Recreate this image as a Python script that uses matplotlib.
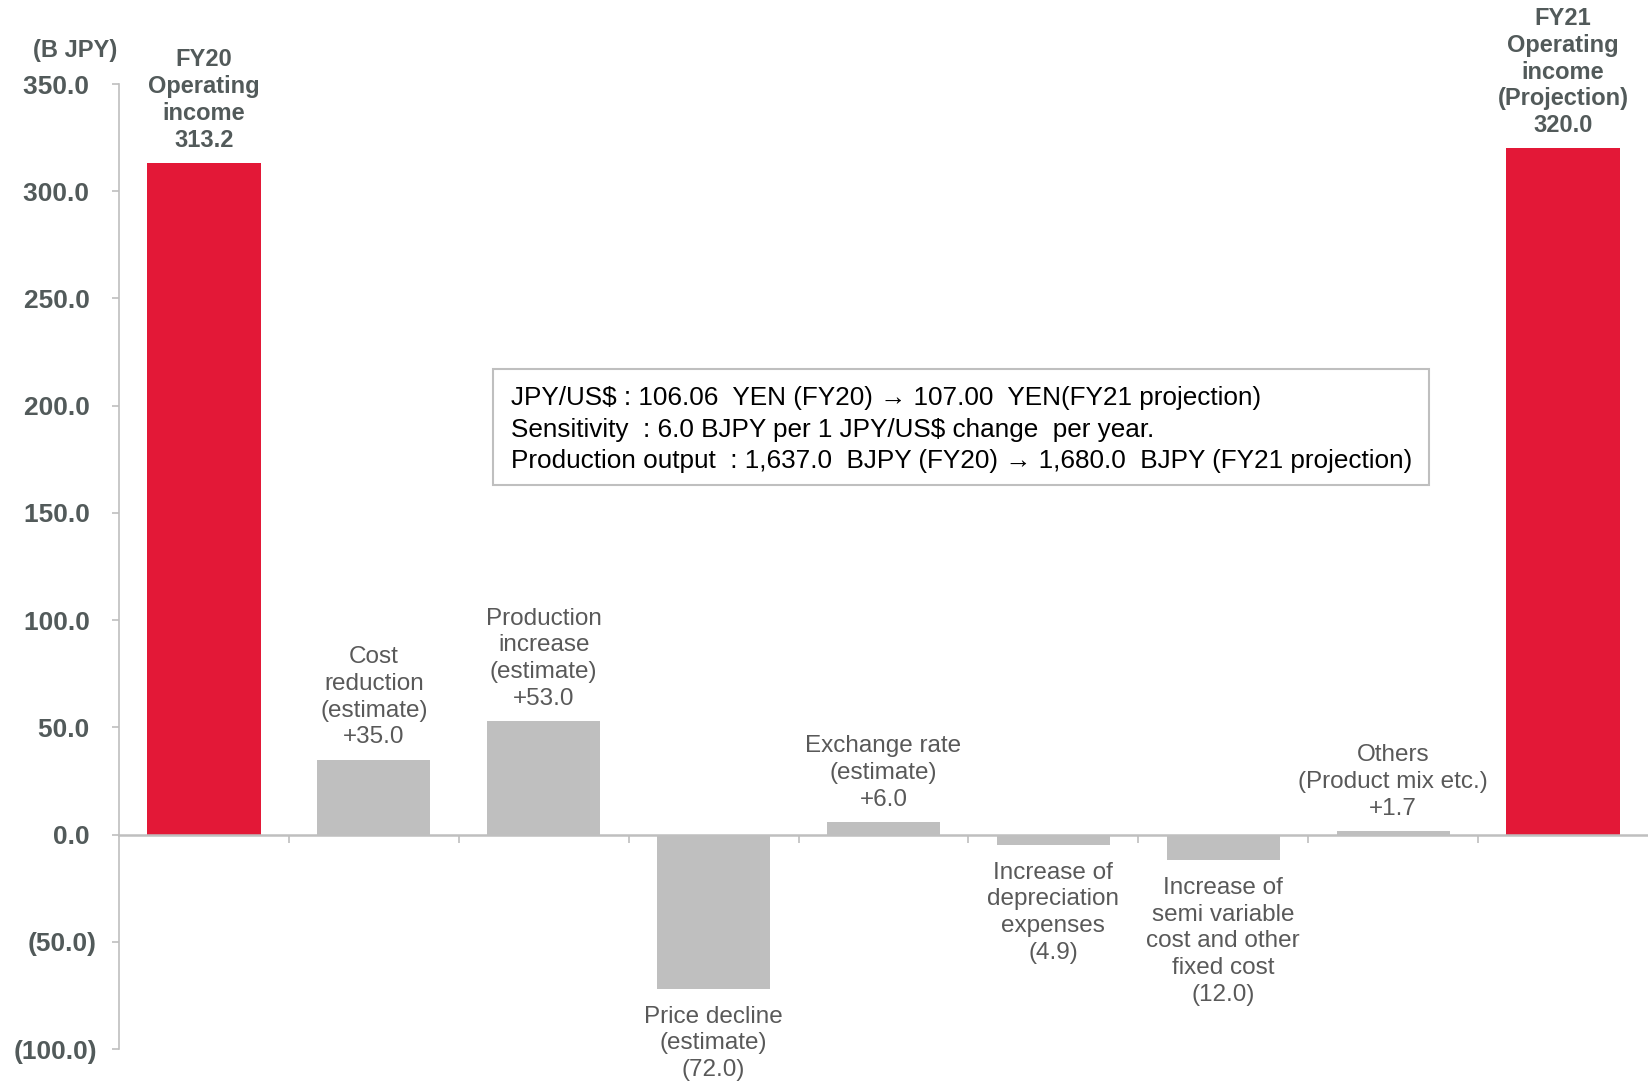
import matplotlib
matplotlib.use("Agg")
import matplotlib.pyplot as plt
from matplotlib.patches import Rectangle

plt.rcParams['font.family'] = ['Liberation Sans', 'DejaVu Sans']

# operating income bridge, B JPY
labels = [
    "FY20\nOperating\nincome\n313.2",
    "Cost\nreduction\n(estimate)\n+35.0",
    "Production\nincrease\n(estimate)\n+53.0",
    "Price decline\n(estimate)\n(72.0)",
    "Exchange rate\n(estimate)\n+6.0",
    "Increase of\ndepreciation\nexpenses\n(4.9)",
    "Increase of\nsemi variable\ncost and other\nfixed cost\n(12.0)",
    "Others\n(Product mix etc.)\n+1.7",
    "FY21\nOperating\nincome\n(Projection)\n320.0",
]
values = [313.2, 35.0, 53.0, -72.0, 6.0, -4.9, -12.0, 1.7, 320.0]
is_total = [True, False, False, False, False, False, False, False, True]
yticks = [-100, -50, 0, 50, 100, 150, 200, 250, 300, 350]

note_lines = [
    "JPY/US$ : 106.06  YEN (FY20) \u2192 107.00  YEN(FY21 projection)",
    "Sensitivity  : 6.0 BJPY per 1 JPY/US$ change  per year.",
    "Production output  : 1,637.0  BJPY (FY20) \u2192 1,680.0  BJPY (FY21 projection)",
]

RED = "#E31837"
GREY = "#BFBFBF"
AXIS = "#BFBFBF"
TXT = "#595959"
TICK_TXT = "#525A5A"

W, H = 1648, 1082
fig = plt.figure(figsize=(W / 100, H / 100), dpi=100)
ax = fig.add_axes([119 / W, 33 / H, 1 - 119 / W, 965 / H])

x = list(range(len(values)))
colors = [RED if t else GREY for t in is_total]
ax.bar(x, values, width=0.667, color=colors, zorder=2)

ax.set_xlim(-0.5, len(values) - 0.5)
ax.set_ylim(-100, 350)

for s in ["top", "right"]:
    ax.spines[s].set_visible(False)
ax.spines["left"].set_color(AXIS)
ax.spines["left"].set_linewidth(1.2)
ax.spines["bottom"].set_color(AXIS)
ax.spines["bottom"].set_linewidth(1.8)
ax.spines["bottom"].set_position(("data", 0))
ax.spines["bottom"].set_zorder(3)

ax.set_xticks([i + 0.5 for i in range(len(values) - 1)])
ax.set_xticklabels([])
ax.tick_params(axis="x", direction="out", length=6, width=1.2, color=AXIS)

def fmt(v):
    return f"({abs(v):.1f})" if v < 0 else f"{v:.1f} "

ax.set_yticks(yticks)
ax.set_yticklabels([fmt(v) for v in yticks])
ax.tick_params(axis="y", direction="out", length=5, width=1.2, color=AXIS,
               pad=11, labelsize=19, labelcolor=TICK_TXT)
for t in ax.get_yticklabels():
    t.set_fontweight("bold")

for xi, v, lab, tot in zip(x, values, labels, is_total):
    up = v >= 0
    ax.annotate(lab, xy=(xi, v), xytext=(0, 8 if up else -12),
                textcoords="offset points", ha="center",
                va="bottom" if up else "top", multialignment="center",
                fontsize=17 if tot else 17.5,
                fontweight="bold" if tot else "normal",
                color=TICK_TXT if tot else TXT,
                linespacing=1.21 if tot else 1.28,
                annotation_clip=False)

fig.text(75 / W, 1 - 50 / H, "(B JPY)", ha="center", va="center",
         fontsize=17, fontweight="bold", color=TICK_TXT)

# exchange-rate note box
box = Rectangle((493 / W, 1 - 485 / H), (1429 - 493) / W, 116 / H,
                transform=fig.transFigure, fill=False, edgecolor=AXIS,
                linewidth=1.5, zorder=4)
fig.add_artist(box)
for i, line in enumerate(note_lines):
    fig.text(511 / W, 1 - (398 + 31.5 * i) / H, line, ha="left", va="center",
             fontsize=18.8, color="black")

fig.savefig("out.png", dpi=100)
